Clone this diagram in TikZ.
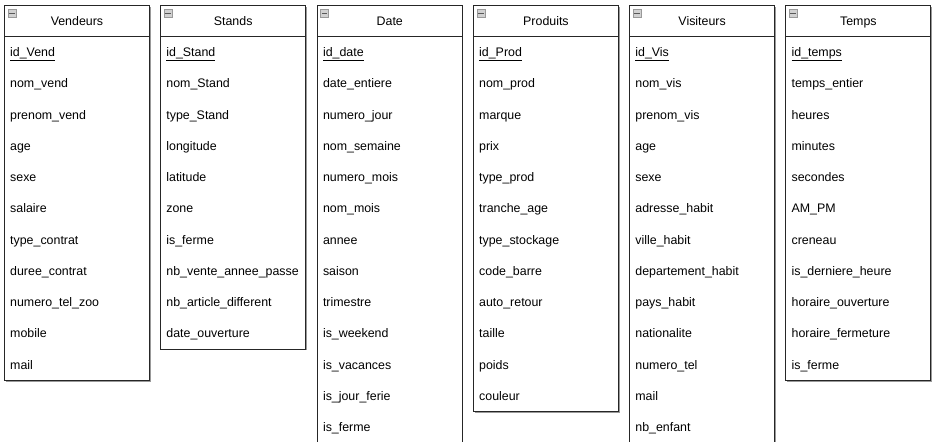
\documentclass[tikz,border=0pt]{standalone}
\usepackage{fontspec}
\setmainfont{Liberation Sans}
\usetikzlibrary{shadows}

% -------------------------------------------------
% Styles of the tables
\tikzset{
  boite/.style={draw=black!85, fill=white, line width=0.9pt, anchor=north west,
    minimum width=145pt, inner sep=0pt,
    drop shadow={shadow xshift=1.2pt, shadow yshift=-1.2pt, fill=black!40, opacity=1}},
  entete/.style={draw=black!85, line width=0.9pt},
  titre/.style={inner sep=0pt, text height=9pt, text depth=2.6pt,
    font=\fontsize{12.4}{14}\selectfont},
  champ/.style={anchor=west, inner sep=0pt, text height=9pt, text depth=2.6pt,
    font=\fontsize{12.4}{14}\selectfont},
  icone/.style={draw=black!40, fill=black!18, minimum width=8pt, minimum height=7.5pt,
    inner sep=0pt, line width=0.5pt},
  tiret/.style={draw=black!65, line width=1pt}
}

% #1 node name, #2 left x, #3 title, #4 key field, #5 other fields
\newcommand\entite[5]{%
  \foreach \c [count=\n] in {#5} {\xdef\nbchamps{\n}}
  \pgfmathsetmacro\hauteur{31.25*(\nbchamps+2)}
  \node[boite, minimum height=\hauteur pt] (#1) at (#2,-5) {};
  \draw[entete] ([yshift=-31.25pt]#1.north west) -- ([yshift=-31.25pt]#1.north east);
  \node[icone] (#1-icone) at ([xshift=7.8pt,yshift=-8.3pt]#1.north west) {};
  \draw[tiret] ([xshift=1.5pt]#1-icone.west) -- ([xshift=-1.5pt]#1-icone.east);
  \node[titre] (#1-titre) at ([yshift=-17.3pt]#1.north) {#3};
  \node[champ] (#1-0) at ([xshift=6pt,yshift=-48.5pt]#1.north west) {\underline{#4}};
  \foreach \c [count=\n] in {#5} {
    \pgfmathsetmacro\dy{-48.5-31.25*\n}
    \node[champ] (#1-\n) at ([xshift=6pt,yshift=\dy pt]#1.north west) {\c};
  }
}

\begin{document}
\begin{tikzpicture}[x=1pt, y=1pt]
\useasboundingbox (0,0) rectangle (946,-442);
% -------------------------------------------------
% The six tables, left to right
\entite{vend}{4}{Vendeurs}{id\_Vend}{nom\_vend, prenom\_vend, age, sexe, salaire,
  type\_contrat, duree\_contrat, numero\_tel\_zoo, mobile, mail}
\entite{stand}{160.2}{Stands}{id\_Stand}{nom\_Stand, type\_Stand, longitude, latitude,
  zone, is\_ferme, nb\_vente\_annee\_passe, nb\_article\_different, date\_ouverture}
\entite{date}{316.8}{Date}{id\_date}{date\_entiere, numero\_jour, nom\_semaine,
  numero\_mois, nom\_mois, annee, saison, trimestre, is\_weekend, is\_vacances,
  is\_jour\_ferie, is\_ferme}
\entite{prod}{473}{Produits}{id\_Prod}{nom\_prod, marque, prix, type\_prod,
  tranche\_age, type\_stockage, code\_barre, auto\_retour, taille, poids, couleur}
\entite{vis}{629.2}{Visiteurs}{id\_Vis}{nom\_vis, prenom\_vis, age, sexe,
  adresse\_habit, ville\_habit, departement\_habit, pays\_habit, nationalite,
  numero\_tel, mail, nb\_enfant}
\entite{temps}{785.4}{Temps}{id\_temps}{temps\_entier, heures, minutes, secondes,
  AM\_PM, creneau, is\_derniere\_heure, horaire\_ouverture, horaire\_fermeture, is\_ferme}
% -------------------------------------------------
\end{tikzpicture}
\end{document}
